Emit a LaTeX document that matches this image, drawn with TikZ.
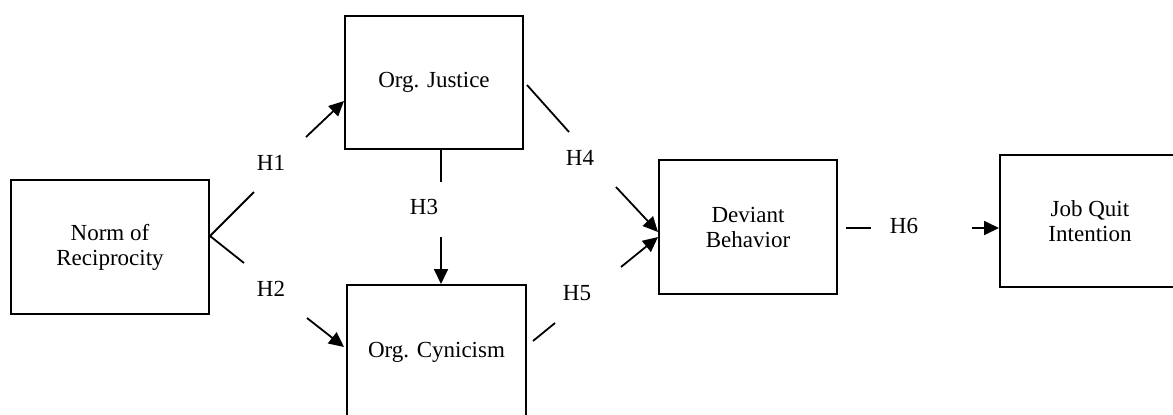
\documentclass[tikz,border=0pt]{standalone}
\usepackage{fontspec}
\setmainfont{Liberation Serif}
\usetikzlibrary{arrows.meta, calc}

\tikzset{
    box/.style={draw, line width=1pt, minimum width=89pt, minimum height=67pt,
        align=center, inner sep=0pt, font=\fontsize{11.5}{12.5}\selectfont},
    hyp/.style={inner sep=0pt, font=\fontsize{11.5}{12.5}\selectfont},
    link/.style={line width=0.9pt},
    hyparrow/.style={link, -{Triangle[length=7.5pt,width=7pt]}}
}

\begin{document}
\begin{tikzpicture}[x=0.5pt, y=-0.5pt]
    % Page size of the figure
    \clip (0,0) rectangle (1173,414);

    % Draw the constructs
    \node[box, minimum width=99pt] (norm) at (110,247) {Norm of\\Reciprocity};
    \node[box, minimum height=66.5pt] (justice) at (434,82.5) {Org. Justice};
    \node[box, minimum width=89.5pt] (cynicism) at (436.5,352) {Org. Cynicism};
    \node[box] (deviant) at (748,227) {Deviant\\Behavior};
    \node[box, minimum width=90pt, minimum height=66pt] (quit) at (1090,221) {Job Quit\\Intention};

    % Hypothesis labels
    \node[hyp] (h1) at (271,163) {H1};
    \node[hyp] (h2) at (271,289) {H2};
    \node[hyp] (h3) at (424,207) {H3};
    \node[hyp] (h4) at (580,158) {H4};
    \node[hyp] (h5) at (577,293) {H5};
    \node[hyp] (h6) at (904,226) {H6};

    % Free ends of the broken paths
    \coordinate (h1a) at (254,192);
    \coordinate (h1b) at (306,137);
    \coordinate (h2a) at (244,263);
    \coordinate (h2b) at (307,318);
    \coordinate (h3a) at (441,182);
    \coordinate (h3b) at (441,237);
    \coordinate (h4a) at (569,132);
    \coordinate (h4b) at (616,187);
    \coordinate (h5a) at (555,323);
    \coordinate (h5b) at (621,267);
    \coordinate (h6a) at (871,228);
    \coordinate (h6b) at (972,228);

    % H1 and H2 out of the norm
    \draw[link] (h1a) -- ($(norm.east)+(0,-11)$) -- (h2a);
    \draw[hyparrow] (h1b) -- ($(justice.west)+(0,18.5)$);
    \draw[hyparrow] (h2b) -- ($(cynicism.west)+(-2,-5)$);

    % H3 justice to cynicism
    \draw[link] ($(justice.south)+(7,0)$) -- (h3a);
    \draw[hyparrow] (h3b) -- ($(cynicism.north)+(4.5,0)$);

    % H4 and H5 into deviant behavior
    \draw[link] ($(justice.east)+(3,2.5)$) -- (h4a);
    \draw[hyparrow] (h4b) -- ($(deviant.west)+(0,5)$);
    \draw[link] ($(cynicism.east)+(6,-11)$) -- (h5a);
    \draw[hyparrow] (h5b) -- ($(deviant.west)+(0,10)$);

    % H6 to job quit intention
    \draw[link] ($(deviant.east)+(8,1)$) -- (h6a);
    \draw[hyparrow] (h6b) -- ($(quit.west)+(0,7)$);

\end{tikzpicture}
\end{document}
